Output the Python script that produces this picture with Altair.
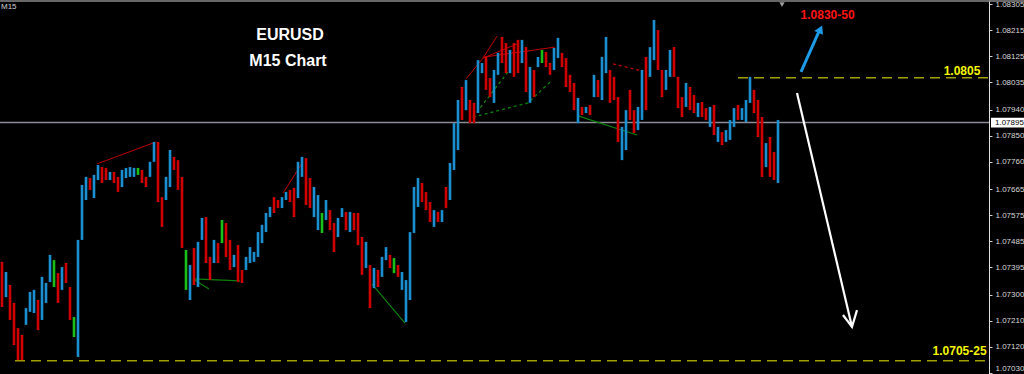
import altair as alt
import pandas as pd

# ---- candle data (one bar every 15 minutes) ----
highs = [
    1.07413, 1.07378, 1.07333, 1.07271, 1.07184, 1.07160, 1.07253, 1.07309, 1.07316, 1.07281,
    1.07361, 1.07340, 1.07437, 1.07419, 1.07374, 1.07395, 1.07409, 1.07326, 1.07222, 1.07489,
    1.07679, 1.07707, 1.07703, 1.07714, 1.07748, 1.07741, 1.07738, 1.07724, 1.07724, 1.07707,
    1.07731, 1.07738, 1.07741, 1.07738, 1.07738, 1.07731, 1.07707, 1.07759, 1.07828, 1.07828,
    1.07637, 1.07707, 1.07800, 1.07776, 1.07765, 1.07707, 1.07454, 1.07402, 1.07461, 1.07482,
    1.07565, 1.07568, 1.07430, 1.07489, 1.07478, 1.07558, 1.07547, 1.07489, 1.07437, 1.07471,
    1.07385, 1.07430, 1.07464, 1.07447, 1.07516, 1.07541, 1.07582, 1.07603, 1.07637, 1.07627,
    1.07637, 1.07655, 1.07662, 1.07669, 1.07759, 1.07776, 1.07772, 1.07703, 1.07672, 1.07644,
    1.07582, 1.07627, 1.07592, 1.07547, 1.07565, 1.07599, 1.07586, 1.07586, 1.07582, 1.07582,
    1.07499, 1.07482, 1.07402, 1.07392, 1.07385, 1.07430, 1.07464, 1.07437, 1.07426, 1.07402,
    1.07378, 1.07350, 1.07516, 1.07672, 1.07703, 1.07686, 1.07655, 1.07620, 1.07592, 1.07586,
    1.07592, 1.07672, 1.07755, 1.07893, 1.07973, 1.08018, 1.08042, 1.07973, 1.07963, 1.08111,
    1.08101, 1.08122, 1.08049, 1.08077, 1.08136, 1.08191, 1.08170, 1.08146, 1.08170, 1.08181,
    1.08181, 1.08156, 1.08087, 1.08077, 1.08122, 1.08146, 1.08139, 1.08101, 1.08153, 1.08188,
    1.08136, 1.08118, 1.08060, 1.08032, 1.07980, 1.07949, 1.07949, 1.07956, 1.08060, 1.08042,
    1.08122, 1.08191, 1.08077, 1.08053, 1.07983, 1.07880, 1.07938, 1.08008, 1.07938, 1.07949,
    1.08077, 1.08122, 1.08156, 1.08250, 1.08215, 1.08077, 1.08077, 1.08146, 1.08156, 1.08053,
    1.07983, 1.08032, 1.08018, 1.07990, 1.07963, 1.07966, 1.07945, 1.07949, 1.07956, 1.07880,
    1.07862, 1.07869, 1.07904, 1.07945, 1.07956, 1.07945, 1.07973, 1.08053, 1.08008, 1.07973,
    1.07914, 1.07824, 1.07845, 1.07793, 1.07904,
]
lows = [
    1.07257, 1.07291, 1.07212, 1.07125, 1.07073, 1.07073, 1.07195, 1.07240, 1.07236, 1.07177,
    1.07212, 1.07271, 1.07343, 1.07326, 1.07271, 1.07316, 1.07340, 1.07212, 1.07153, 1.07084,
    1.07489, 1.07627, 1.07662, 1.07634, 1.07696, 1.07686, 1.07696, 1.07696, 1.07686, 1.07655,
    1.07672, 1.07703, 1.07707, 1.07707, 1.07714, 1.07686, 1.07672, 1.07707, 1.07759, 1.07620,
    1.07534, 1.07627, 1.07672, 1.07731, 1.07662, 1.07461, 1.07316, 1.07281, 1.07333, 1.07326,
    1.07489, 1.07409, 1.07350, 1.07409, 1.07409, 1.07478, 1.07430, 1.07385, 1.07395, 1.07343,
    1.07340, 1.07385, 1.07409, 1.07413, 1.07430, 1.07478, 1.07516, 1.07568, 1.07582, 1.07599,
    1.07599, 1.07627, 1.07620, 1.07568, 1.07634, 1.07707, 1.07610, 1.07599, 1.07568, 1.07523,
    1.07513, 1.07558, 1.07523, 1.07447, 1.07499, 1.07568, 1.07523, 1.07516, 1.07523, 1.07471,
    1.07368, 1.07392, 1.07253, 1.07322, 1.07326, 1.07361, 1.07419, 1.07392, 1.07374, 1.07361,
    1.07316, 1.07205, 1.07281, 1.07513, 1.07603, 1.07620, 1.07592, 1.07551, 1.07534, 1.07551,
    1.07551, 1.07599, 1.07627, 1.07731, 1.07800, 1.07904, 1.07938, 1.07893, 1.07893, 1.07928,
    1.08066, 1.08008, 1.07983, 1.07963, 1.08060, 1.08101, 1.08066, 1.08066, 1.08053, 1.08066,
    1.08101, 1.08001, 1.07963, 1.07983, 1.08087, 1.08101, 1.08087, 1.08060, 1.08077, 1.08118,
    1.08087, 1.08018, 1.08001, 1.07938, 1.07893, 1.07921, 1.07928, 1.07921, 1.07983, 1.07983,
    1.07973, 1.08066, 1.07963, 1.07973, 1.07828, 1.07765, 1.07800, 1.07904, 1.07859, 1.07869,
    1.07904, 1.07938, 1.08053, 1.08111, 1.08077, 1.07983, 1.08008, 1.08053, 1.08053, 1.07945,
    1.07914, 1.07949, 1.07938, 1.07928, 1.07914, 1.07914, 1.07904, 1.07880, 1.07852, 1.07828,
    1.07817, 1.07828, 1.07835, 1.07880, 1.07904, 1.07904, 1.07897, 1.07963, 1.07928, 1.07845,
    1.07707, 1.07741, 1.07707, 1.07696, 1.07686,
]
kinds = list(
    "dudddduuud" "uuugduddgu" "uuduuddudd" "uuuugdduud" "duudddgudu"
    "uddudgddud" "duuuuuuudd" "uudduudduu" "gudduududd" "dududuudgd"
    "uuuuudddud" "uduuududdu" "udduuddudd" "ududugdduu" "ddddududud"
    "uuddduuddu" "uduudduudd" "dudduddudu" "duuuduuudd" "duddu"
)

n = min(len(highs), len(lows), len(kinds))
bars = pd.DataFrame({"i": list(range(n)), "high": highs[:n], "low": lows[:n], "kind": kinds[:n]})

# ---- axis ticks ----
tick_values = [1.08305, 1.08215, 1.08125, 1.08035, 1.07940, 1.07850, 1.07760, 1.07665,
               1.07575, 1.07485, 1.07395, 1.07300, 1.07210, 1.07120, 1.07030]
current_price = 1.07895

# ---- pattern annotation segments (bar index, price) ----
seg_id = ["r1", "r1", "r2", "r2", "r3", "r3", "r4", "r4", "r5", "r5", "r6", "r6",
          "rd1", "rd1",
          "gd1", "gd1", "gd2", "gd2", "gd2",
          "g1", "g1", "g2", "g2", "g3", "g3", "g4", "g4"]
seg_x = [23.75, 38.5, 70.25, 75.25, 116, 120.25, 120.25, 123.75, 120.25, 128.75, 120.25, 138.25,
         152.75, 160.25,
         117.75, 126.5, 117.75, 131.5, 137,
         47.75, 59.5, 47.75, 51.75, 92.5, 100.75, 144, 158.75]
seg_p = [1.07752, 1.07828, 1.07651, 1.07759, 1.08046, 1.08118, 1.08118, 1.08194, 1.08118, 1.08167,
         1.08121, 1.08156,
         1.08098, 1.08073,
         1.07914, 1.08070, 1.07914, 1.07963, 1.08035,
         1.07354, 1.07347, 1.07354, 1.07319, 1.07336, 1.07201, 1.07918, 1.07852]
seg_style = ["rs"] * 12 + ["rd"] * 2 + ["gd"] * 5 + ["gs"] * 8
segs = pd.DataFrame({"seg": seg_id, "x": seg_x, "p": seg_p, "style": seg_style,
                     "o": list(range(len(seg_id)))})

# ---- target levels ----
lvl_start = [184.0, 3.25]
lvl_end = [246.75, 246.75]
lvl_price = [1.0805, 1.07071]
levels = pd.DataFrame({"s": lvl_start, "e": lvl_end, "p": lvl_price})

# ---- arrows ----
blue_x = [199.75, 204.2]
blue_p = [1.08070, 1.08209]
white_seg = ["shaft", "shaft", "head", "head", "head"]
white_x = [198.75, 212.5, 210.25, 212.5, 213.75]
white_p = [1.07997, 1.07188, 1.07229, 1.07188, 1.07246]

# ---- texts ----
txt = ["EURUSD", "M15 Chart"]
txt_x = [72.0, 71.5]
txt_p = [1.08198, 1.08108]
lbl = ["1.0830-50", "1.0805", "1.0705-25"]
lbl_x = [206.4, 240.0, 239.4]
lbl_p = [1.08267, 1.08073, 1.07105]
lbl_c = ["#ff1414", "#f5f500", "#f5f500"]

XS = alt.Scale(domain=[-0.5, 246.75], nice=False, zero=False)
YS = alt.Scale(domain=[1.07025, 1.08319], nice=False, zero=False)
YAX = alt.Axis(
    orient="right", values=tick_values, format=".5f", title=None, grid=False,
    labelColor="#d8d8d8", labelFont="Liberation Sans", labelFontSize=8,
    labelBaseline={"condition": {"test": "datum.value < 1.0705", "value": "bottom"},
                   "value": "middle"},
    tickColor="#d0d0d0", tickSize=3, domainColor="#e0e0e0", labelPadding=3,
    labelOverlap=False, labelFlush=False, labelBound=False)


def X(f):
    return alt.X(f, type="quantitative", scale=XS, axis=None)


def Y(f):
    return alt.Y(f, type="quantitative", scale=YS, axis=YAX)


bar_layer = alt.Chart(bars).mark_rule(strokeWidth=2.6).encode(
    x=X("i"),
    y=Y("low"),
    y2="high:Q",
    color=alt.Color("kind:N", scale=alt.Scale(domain=["u", "d", "g"],
                                              range=["#1a8fd2", "#d00000", "#18c018"]),
                    legend=None),
)

price_line = alt.Chart(pd.DataFrame({"p": [current_price]})).mark_rule(
    color="#8c8c98", strokeWidth=1.5).encode(y=Y("p"))

level_layer = alt.Chart(levels).mark_rule(
    color="#a0a000", strokeWidth=1.5, strokeDash=[10, 6]).encode(
    x=X("s"), x2="e", y=Y("p"))

rs = alt.Chart(segs).transform_filter(alt.datum.style == "rs").mark_line(
    color="#c00000", strokeWidth=1).encode(x=X("x"), y=Y("p"), detail="seg:N", order="o:Q")
rd = alt.Chart(segs).transform_filter(alt.datum.style == "rd").mark_line(
    color="#c00000", strokeWidth=1.3, strokeDash=[3, 3]).encode(
    x=X("x"), y=Y("p"), detail="seg:N", order="o:Q")
gd = alt.Chart(segs).transform_filter(alt.datum.style == "gd").mark_line(
    color="#0b800b", strokeWidth=1.3, strokeDash=[3, 3]).encode(
    x=X("x"), y=Y("p"), detail="seg:N", order="o:Q")
gs = alt.Chart(segs).transform_filter(alt.datum.style == "gs").mark_line(
    color="#0b800b", strokeWidth=1.2).encode(x=X("x"), y=Y("p"), detail="seg:N", order="o:Q")

blue_df = pd.DataFrame({"x": blue_x, "p": blue_p})
blue_shaft = alt.Chart(blue_df).mark_line(color="#1e9be8", strokeWidth=3).encode(
    x=X("x"), y=Y("p"))
blue_head = alt.Chart(pd.DataFrame({"x": [204.6], "p": [1.08218]})).mark_point(
    shape="triangle-up", filled=True, size=90, angle=24, color="#1e9be8", opacity=1).encode(
    x=X("x"), y=Y("p"))

white_df = pd.DataFrame({"seg": white_seg, "x": white_x, "p": white_p,
                         "o": list(range(len(white_seg)))})
white_arrow = alt.Chart(white_df).mark_line(color="#ffffff", strokeWidth=2.2).encode(
    x=X("x"), y=Y("p"), detail="seg:N", order="o:Q")

title_layer = alt.Chart(pd.DataFrame({"t": txt, "x": txt_x, "p": txt_p})).mark_text(
    font="Liberation Sans", fontWeight="bold", fontSize=16, color="#ffffff",
    align="center", baseline="middle").encode(x=X("x"), y=Y("p"), text="t:N")

lbl_layer = alt.Chart(pd.DataFrame({"t": lbl, "x": lbl_x, "p": lbl_p, "c": lbl_c})).mark_text(
    font="Liberation Sans", fontWeight="bold", fontSize=12,
    align="center", baseline="middle").encode(
    x=X("x"), y=Y("p"), text="t:N", color=alt.Color("c:N", scale=None))

top_tri = alt.Chart(pd.DataFrame({"x": [195.0], "p": [1.08303]})).mark_point(
    shape="triangle-down", filled=True, size=28, color="#9a9a9a", opacity=1).encode(
    x=X("x"), y=Y("p"))

tag_df = pd.DataFrame({"p": [current_price], "top": [current_price + 0.00017],
                       "bot": [current_price - 0.00017], "t": ["1.07895"]})
tag_box = alt.Chart(tag_df).mark_rect(color="#ffffff").encode(
    x=alt.value(991), x2=alt.value(1024), y=Y("top"), y2="bot:Q")
tag_txt = alt.Chart(tag_df).mark_text(
    font="Liberation Sans", fontSize=8, color="#000000", align="left", baseline="middle").encode(
    x=alt.value(995), y=Y("p"), text="t:N")

top_border = alt.Chart(pd.DataFrame({"a": [0]})).mark_rule(color="#8a8a8a", strokeWidth=1.5).encode(
    x=alt.value(0), x2=alt.value(1024), y=alt.value(1))
m15 = alt.Chart(pd.DataFrame({"t": ["M15"]})).mark_text(
    font="Liberation Sans", fontSize=8, color="#cfcfcf", align="left", baseline="middle").encode(
    x=alt.value(1), y=alt.value(7), text="t:N")

chart = alt.layer(
    price_line, level_layer, rs, rd, gd, gs, bar_layer,
    blue_shaft, blue_head, white_arrow, title_layer, lbl_layer, top_tri,
    tag_box, tag_txt, top_border, m15,
).properties(
    width=989, height=374,
    padding={"left": 0, "top": 0, "right": 35, "bottom": 0},
    autosize=alt.AutoSizeParams(type="none"),
    background="#000000",
).configure_view(stroke=None)

chart.save("out.html", embed_options={"renderer": "svg", "actions": False})
